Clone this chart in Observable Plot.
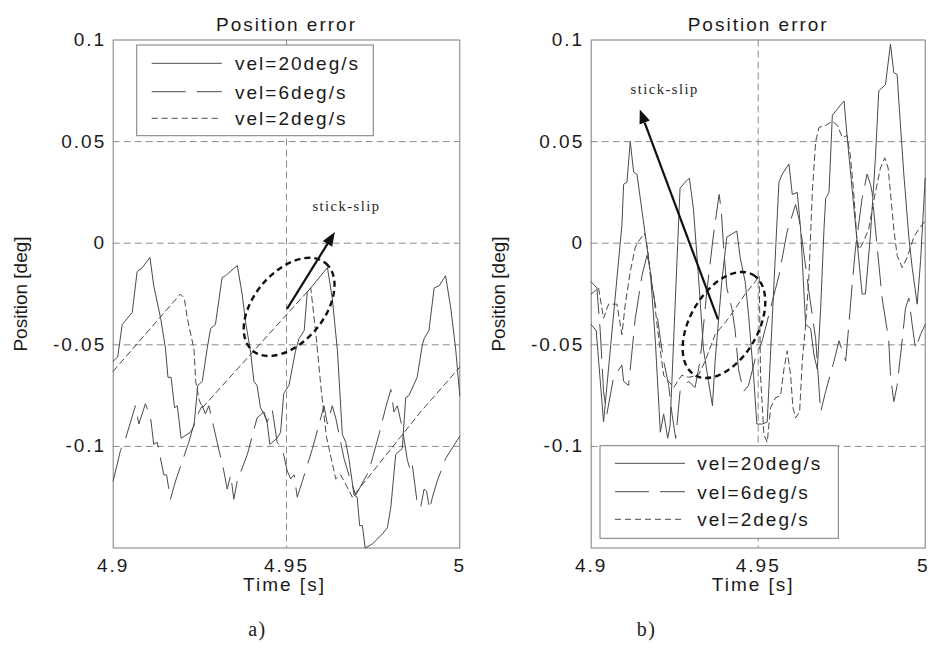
<!DOCTYPE html>
<html>
<head>
<meta charset="utf-8">
<script src="https://cdn.jsdelivr.net/npm/d3@7"></script>
<script src="https://cdn.jsdelivr.net/npm/@observablehq/plot@0.6"></script>
<style>
html, body { margin: 0; padding: 0; background: #fff; }
#wrap { display: flex; width: 929px; height: 648px; overflow: hidden; background: #fff; }
#wrap > div { flex: none; }
</style>
</head>
<body>
<div id="wrap"><div id="pa"></div><div id="pb"></div></div>
<script>
// ---- ticks / labels ----
const xTicks = [4.9, 4.95, 5];
const yTicks = [-0.1, -0.05, 0, 0.05, 0.1];
const gridX = [4.95];
const gridY = [-0.1, -0.05, 0, 0.05];
const seriesNames = ["vel=20deg/s", "vel=6deg/s", "vel=2deg/s"];
const panelTags = ["a)", "b)"];
const titleText = "Position error";
const xLabel = "Time [s]";
const yLabel = "Position [deg]";
const noteText = "stick-slip";

// ---- panel a) data [time s, position error deg] ----
const leftVel20 = [[4.9000,-0.058],[4.9013,-0.056],[4.9026,-0.040],[4.9036,-0.038],[4.9055,-0.034],[4.9069,-0.014],[4.9084,-0.012],[4.9106,-0.007],[4.9117,-0.021],[4.9137,-0.037],[4.9151,-0.052],[4.9158,-0.066],[4.9167,-0.066],[4.9177,-0.081],[4.9185,-0.080],[4.9196,-0.096],[4.9223,-0.093],[4.9233,-0.090],[4.9244,-0.070],[4.9257,-0.068],[4.9271,-0.052],[4.9281,-0.042],[4.9295,-0.040],[4.9314,-0.017],[4.9324,-0.016],[4.9358,-0.011],[4.9372,-0.025],[4.9382,-0.039],[4.9396,-0.053],[4.9406,-0.068],[4.9415,-0.070],[4.9425,-0.081],[4.9435,-0.084],[4.9444,-0.088],[4.9452,-0.099],[4.9473,-0.096],[4.9483,-0.093],[4.9492,-0.074],[4.9507,-0.070],[4.9526,-0.053],[4.9536,-0.047],[4.9551,-0.043],[4.9560,-0.024],[4.9575,-0.021],[4.9618,-0.012],[4.9632,-0.027],[4.9647,-0.053],[4.9661,-0.094],[4.9671,-0.098],[4.9680,-0.106],[4.9695,-0.124],[4.9704,-0.125],[4.9711,-0.139],[4.9719,-0.139],[4.9727,-0.150],[4.9748,-0.148],[4.9777,-0.143],[4.9791,-0.140],[4.9801,-0.130],[4.9815,-0.104],[4.9834,-0.101],[4.9844,-0.076],[4.9853,-0.075],[4.9877,-0.066],[4.9892,-0.050],[4.9897,-0.047],[4.9911,-0.043],[4.9926,-0.022],[4.9940,-0.021],[4.9959,-0.016],[4.9974,-0.032],[4.9988,-0.052],[5.0000,-0.075]];
const leftVel6 = [[4.9000,-0.117],[4.9021,-0.102],[4.9036,-0.096],[4.9064,-0.080],[4.9074,-0.089],[4.9093,-0.079],[4.9108,-0.086],[4.9117,-0.099],[4.9127,-0.098],[4.9146,-0.114],[4.9154,-0.114],[4.9165,-0.126],[4.9180,-0.117],[4.9218,-0.098],[4.9238,-0.086],[4.9257,-0.080],[4.9266,-0.084],[4.9276,-0.080],[4.9300,-0.098],[4.9319,-0.112],[4.9329,-0.121],[4.9339,-0.114],[4.9348,-0.126],[4.9358,-0.117],[4.9387,-0.104],[4.9415,-0.086],[4.9435,-0.083],[4.9444,-0.088],[4.9459,-0.082],[4.9473,-0.098],[4.9488,-0.101],[4.9502,-0.112],[4.9512,-0.116],[4.9522,-0.114],[4.9531,-0.125],[4.9546,-0.117],[4.9575,-0.101],[4.9599,-0.086],[4.9608,-0.080],[4.9618,-0.089],[4.9632,-0.080],[4.9642,-0.086],[4.9666,-0.106],[4.9685,-0.117],[4.9700,-0.124],[4.9738,-0.112],[4.9767,-0.094],[4.9786,-0.081],[4.9801,-0.072],[4.9810,-0.083],[4.9820,-0.080],[4.9834,-0.091],[4.9849,-0.107],[4.9858,-0.112],[4.9863,-0.109],[4.9878,-0.129],[4.9887,-0.130],[4.9897,-0.121],[4.9904,-0.122],[4.9913,-0.131],[4.9921,-0.125],[4.9935,-0.117],[4.9959,-0.106],[5.0000,-0.095]];
const leftVel2 = [[4.9000,-0.063],[4.9194,-0.025],[4.9205,-0.027],[4.9215,-0.038],[4.9233,-0.052],[4.9238,-0.068],[4.9248,-0.077],[4.9257,-0.081],[4.9570,-0.022],[4.9585,-0.045],[4.9600,-0.072],[4.9615,-0.095],[4.9642,-0.116],[4.9656,-0.114],[4.9675,-0.120],[4.9690,-0.125],[4.9887,-0.083],[5.0000,-0.061]];

// ---- panel b) data ----
const rightVel20 = [[4.9000,-0.040],[4.9015,-0.043],[4.9037,-0.088],[4.9092,0.009],[4.9097,0.029],[4.9107,0.030],[4.9117,0.050],[4.9127,0.035],[4.9137,0.034],[4.9152,0.016],[4.9177,-0.014],[4.9192,-0.048],[4.9207,-0.093],[4.9217,-0.084],[4.9229,-0.096],[4.9236,-0.090],[4.9266,0.027],[4.9281,0.030],[4.9294,0.032],[4.9306,0.017],[4.9321,-0.016],[4.9336,-0.052],[4.9351,-0.068],[4.9363,-0.080],[4.9371,-0.058],[4.9391,-0.019],[4.9406,0.003],[4.9416,0.004],[4.9436,0.006],[4.9446,-0.007],[4.9461,-0.019],[4.9471,-0.035],[4.9486,-0.065],[4.9496,-0.089],[4.9512,-0.089],[4.9527,-0.088],[4.9562,0.030],[4.9572,0.034],[4.9592,0.039],[4.9602,0.024],[4.9617,0.025],[4.9627,0.007],[4.9642,-0.040],[4.9657,-0.042],[4.9667,-0.055],[4.9677,-0.062],[4.9687,-0.032],[4.9697,0.007],[4.9702,0.022],[4.9712,0.025],[4.9722,0.063],[4.9737,0.066],[4.9757,0.070],[4.9766,0.053],[4.9781,0.027],[4.9796,0.001],[4.9811,-0.025],[4.9821,-0.025],[4.9836,0.004],[4.9851,0.042],[4.9861,0.075],[4.9881,0.078],[4.9896,0.098],[4.9906,0.084],[4.9916,0.083],[4.9921,0.070],[4.9936,0.034],[4.9951,0.003],[4.9961,-0.012],[4.9976,-0.030],[4.9986,-0.009],[5.0000,0.032]];
const rightVel6 = [[4.9000,-0.019],[4.9017,-0.022],[4.9027,-0.043],[4.9037,-0.073],[4.9047,-0.084],[4.9067,-0.066],[4.9092,-0.060],[4.9097,-0.068],[4.9112,-0.070],[4.9132,-0.037],[4.9152,-0.016],[4.9167,-0.006],[4.9177,-0.012],[4.9182,-0.021],[4.9197,-0.035],[4.9207,-0.047],[4.9217,-0.058],[4.9232,-0.070],[4.9242,-0.084],[4.9253,-0.096],[4.9266,-0.073],[4.9291,-0.068],[4.9311,-0.071],[4.9326,-0.058],[4.9346,-0.024],[4.9366,0.004],[4.9383,0.024],[4.9389,0.017],[4.9396,-0.001],[4.9406,-0.022],[4.9421,-0.032],[4.9431,-0.043],[4.9441,-0.062],[4.9456,-0.073],[4.9471,-0.070],[4.9491,-0.057],[4.9512,-0.048],[4.9537,-0.032],[4.9562,-0.016],[4.9587,0.006],[4.9612,0.019],[4.9622,0.012],[4.9632,0.001],[4.9652,-0.024],[4.9672,-0.047],[4.9687,-0.083],[4.9702,-0.073],[4.9727,-0.058],[4.9742,-0.048],[4.9752,-0.053],[4.9762,-0.058],[4.9772,-0.039],[4.9781,-0.021],[4.9791,-0.003],[4.9811,0.022],[4.9826,0.034],[4.9836,0.029],[4.9841,0.025],[4.9851,0.007],[4.9871,-0.027],[4.9891,-0.048],[4.9896,-0.065],[4.9906,-0.078],[4.9916,-0.070],[4.9931,-0.048],[4.9941,-0.032],[4.9951,-0.027],[4.9961,-0.040],[4.9971,-0.052],[4.9986,-0.045],[5.0000,-0.040]];
const rightVel2 = [[4.9000,-0.025],[4.9022,-0.022],[4.9037,-0.037],[4.9052,-0.030],[4.9077,-0.030],[4.9092,-0.045],[4.9102,-0.030],[4.9117,-0.014],[4.9132,-0.002],[4.9142,0.001],[4.9160,0.005],[4.9170,-0.004],[4.9177,-0.016],[4.9187,-0.025],[4.9197,-0.040],[4.9207,-0.053],[4.9217,-0.065],[4.9232,-0.068],[4.9247,-0.071],[4.9271,-0.065],[4.9291,-0.066],[4.9321,-0.065],[4.9341,-0.058],[4.9371,-0.045],[4.9411,-0.037],[4.9461,-0.025],[4.9491,-0.019],[4.9503,-0.016],[4.9507,-0.065],[4.9517,-0.094],[4.9527,-0.098],[4.9537,-0.081],[4.9552,-0.076],[4.9567,-0.075],[4.9577,-0.062],[4.9587,-0.053],[4.9597,-0.065],[4.9604,-0.081],[4.9612,-0.086],[4.9624,-0.083],[4.9632,-0.058],[4.9642,-0.040],[4.9652,-0.016],[4.9662,0.025],[4.9672,0.050],[4.9682,0.057],[4.9702,0.058],[4.9722,0.060],[4.9737,0.058],[4.9752,0.052],[4.9766,0.053],[4.9776,0.043],[4.9786,0.025],[4.9796,0.001],[4.9803,-0.003],[4.9816,0.001],[4.9831,0.007],[4.9846,0.021],[4.9866,0.037],[4.9879,0.042],[4.9889,0.037],[4.9896,0.025],[4.9906,0.007],[4.9916,-0.006],[4.9931,-0.012],[4.9946,-0.007],[4.9966,0.003],[4.9981,0.007],[5.0000,0.011]];

// ---- styles ----
const dashes = [null, "34,11", "6,4"];
const lineColor = "#4a4a4a";
const gridColor = "#8c8c8c";
const sans = "Liberation Sans, Arial, Helvetica, sans-serif";
const serif = "Liberation Serif, Times New Roman, serif";

function ellipseMark(t, v, rx, ry, angle) {
  return (index, scales) => {
    const g = d3.create("svg:g");
    g.append("ellipse")
      .attr("transform", `translate(${scales.x(t)},${scales.y(v)}) rotate(${angle})`)
      .attr("rx", rx).attr("ry", ry)
      .attr("fill", "none").attr("stroke", "#111").attr("stroke-width", 2.4)
      .attr("stroke-dasharray", "6,4");
    return g.node();
  };
}

function arrowMark(t1, v1, t2, v2) {
  return (index, scales) => {
    const x1 = scales.x(t1), y1 = scales.y(v1), x2 = scales.x(t2), y2 = scales.y(v2);
    const dx = x2 - x1, dy = y2 - y1, L = Math.hypot(dx, dy);
    const ux = dx / L, uy = dy / L, hl = 14, hw = 5.5;
    const bx = x2 - ux * hl, by = y2 - uy * hl;
    const g = d3.create("svg:g");
    g.append("line").attr("x1", x1).attr("y1", y1).attr("x2", bx).attr("y2", by)
      .attr("stroke", "#111").attr("stroke-width", 2.2);
    g.append("path")
      .attr("d", `M${x2},${y2}L${bx - uy * hw},${by + ux * hw}L${bx + uy * hw},${by - ux * hw}Z`)
      .attr("fill", "#111");
    return g.node();
  };
}

function legendMark(box) {
  return (index, scales, values, dims) => {
    const ox = dims.marginLeft, oy = dims.marginTop;
    const g = d3.create("svg:g").attr("text-anchor", "start");
    g.append("rect").attr("x", ox + box.x).attr("y", oy + box.y)
      .attr("width", box.w).attr("height", box.h)
      .attr("fill", "#fff").attr("stroke", "#7a7a7a");
    seriesNames.forEach((name, i) => {
      const y = oy + box.rows[i];
      const ln = g.append("line").attr("x1", ox + box.lx1).attr("x2", ox + box.lx2)
        .attr("y1", y).attr("y2", y).attr("stroke", lineColor).attr("stroke-width", 1);
      if (dashes[i]) ln.attr("stroke-dasharray", dashes[i]);
      g.append("text").attr("x", ox + box.tx).attr("y", y).attr("dy", "0.36em")
        .attr("text-anchor", "start").attr("fill", "#1a1a1a").text(name);
    });
    return g.node();
  };
}

function panel(cfg) {
  const marks = [
    Plot.ruleY(gridY, {stroke: gridColor, strokeDasharray: "7,4"}),
    Plot.ruleX(gridX, {stroke: gridColor, strokeDasharray: "7,4"}),
    Plot.frame({stroke: "#7d7d7d"}),
    ...cfg.series.map((arr, i) => Plot.line(arr, {
      x: d => d[0], y: d => d[1], stroke: lineColor, strokeWidth: 1,
      strokeDasharray: dashes[i] || undefined
    })),
    ellipseMark(...cfg.ellipse),
    arrowMark(...cfg.arrow),
    Plot.text([noteText], {x: () => cfg.note[0], y: () => cfg.note[1], text: d => d,
      fontFamily: serif, fontSize: 14.5, fill: "#222"}),
    Plot.text([titleText], {frameAnchor: "top", dy: -22.5, text: d => d, fill: "#1a1a1a"}),
    Plot.text([xLabel], {frameAnchor: "bottom", dy: 42.5, dx: cfg.xLabelDx, text: d => d, fill: "#1a1a1a"}),
    Plot.text([yLabel], {frameAnchor: "left", textAnchor: "middle", dx: -92.7, rotate: -90, text: d => d, fill: "#1a1a1a"}),
    Plot.text([cfg.tag], {frameAnchor: "bottom-left", textAnchor: "middle", dx: cfg.tagDx, dy: 87.5, text: d => d,
      fontFamily: serif, fontSize: 20, fill: "#1a1a1a"}),
    legendMark(cfg.legend)
  ];
  const svg = Plot.plot({
    width: cfg.width,
    height: 648,
    marginLeft: cfg.marginLeft,
    marginRight: cfg.marginRight,
    marginTop: 39.5,
    marginBottom: 100.5,
    style: `font: 19px ${sans}; letter-spacing: 2px; color: #1a1a1a; background: transparent; overflow: visible; max-width: none;`,
    x: {domain: [4.9, 5], ticks: xTicks, tickFormat: d => String(d), tickSize: 0, tickPadding: 10, label: null},
    y: {domain: [-0.15, 0.1], ticks: yTicks, tickFormat: d => String(d), tickSize: 0, tickPadding: 7, label: null},
    marks
  });
  d3.select(svg).selectAll("text").each(function () {
    const s = this.textContent;
    if (s === yLabel) this.style.letterSpacing = "0px";
    if (s === noteText || panelTags.includes(s)) this.style.letterSpacing = "1.5px";
    if (cfg.lastTickShift && s === "5") {
      this.setAttribute("dx", String(cfg.lastTickShift));
      this.style.letterSpacing = "0px";
    }
  });
  return svg;
}

document.getElementById("pa").appendChild(panel({
  width: 465, marginLeft: 112.7, marginRight: 5.7,
  series: [leftVel20, leftVel6, leftVel2],
  ellipse: [4.9509, -0.0316, 57, 35, -50],
  arrow: [4.9503, -0.0326, 4.9641, 0.0053],
  note: [4.9673, 0.0180],
  tag: panelTags[0], tagDx: 144.3, xLabelDx: -2,
  legend: {x: 24, y: 5.5, w: 236.6, h: 90.7, lx1: 39, lx2: 109, tx: 122.3, rows: [23.8, 52.2, 78.8]}
}));

document.getElementById("pb").appendChild(panel({
  width: 464, marginLeft: 125.7, marginRight: 4.3,
  series: [rightVel20, rightVel6, rightVel2],
  ellipse: [4.9399, -0.0405, 58, 34, -60],
  arrow: [4.9381, -0.0377, 4.9147, 0.0656],
  note: [4.9220, 0.0756],
  tag: panelTags[1], tagDx: 55.3, xLabelDx: -5, lastTickShift: -3,
  legend: {x: 9.3, y: 406.2, w: 238.3, h: 92.6, lx1: 24.3, lx2: 94.3, tx: 106.6, rows: [423.8, 452.2, 479.8]}
}));
</script>
</body>
</html>
